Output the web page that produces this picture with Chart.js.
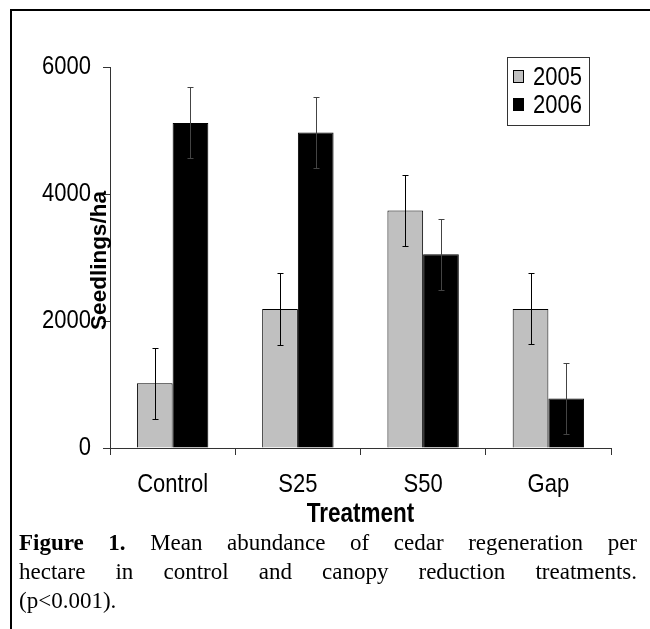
<!DOCTYPE html>
<html>
<head>
<meta charset="utf-8">
<script src="https://cdn.jsdelivr.net/npm/chart.js@4.4.1/dist/chart.umd.min.js"></script>
<style>
  html, body { margin: 0; padding: 0; background: #fff; }
  body { width: 650px; height: 629px; position: relative; overflow: hidden; }
  #frame { position: absolute; left: 10px; top: 9px; width: 700px; height: 700px;
           border-top: 2px solid #000; border-left: 2px solid #000; box-sizing: border-box; }
  #chart { position: absolute; left: 0; top: 0; }
  #caption { position: absolute; left: 19px; top: 528px; width: 618px;
             font-family: "Liberation Serif", "Times New Roman", serif; font-size: 23px;
             line-height: 29px; color: #000; }
  #caption .j { text-align: justify; text-align-last: justify; white-space: nowrap; }
</style>
</head>
<body>
<div id="frame"></div>
<canvas id="chart" width="650" height="629"></canvas>
<div id="caption">
  <div class="j"><b>Figure 1.</b> Mean abundance of cedar regeneration per</div>
  <div class="j">hectare in control and canopy reduction treatments.</div>
  <div>(p&lt;0.001).</div>
</div>
<script>
// Cedar seedlings per hectare by canopy treatment, two survey years
const treatments = ['Control', 'S25', 'S50', 'Gap'];
const seedlings2005 = [1020, 2190, 3740, 2190];
const seedlings2006 = [5120, 4970, 3050, 780];
const error2005 = [560, 565, 565, 560];
const error2006 = [560, 560, 560, 560];
const yTickValues = [0, 2000, 4000, 6000];
const yearLabels = ['2005', '2006'];

const SANS = '"Liberation Sans", Arial, sans-serif';
const TEXT_STRETCH = 1.2;   // chart lettering is set tall and narrow

// while the chart draws, horizontal text is stretched vertically about its anchor
const tallText = {
  id: 'tallText',
  beforeDraw(chart) {
    const ctx = chart.ctx;
    if (!ctx.plainFillText) ctx.plainFillText = ctx.fillText;
    ctx.fillText = function (text, x, y, maxWidth) {
      this.save();
      this.translate(x, y);
      this.scale(1, TEXT_STRETCH);
      if (maxWidth === undefined) this.plainFillText(text, 0, 0);
      else this.plainFillText(text, 0, 0, maxWidth);
      this.restore();
    };
  },
  afterDraw(chart) {
    const ctx = chart.ctx;
    if (ctx.plainFillText) ctx.fillText = ctx.plainFillText;
  }
};

// vertical error bars with short caps, drawn from the value scale
const errorBars = {
  id: 'errorBars',
  afterDatasetsDraw(chart) {
    const ctx = chart.ctx;
    const y = chart.scales.y;
    chart.data.datasets.forEach((ds, i) => {
      const meta = chart.getDatasetMeta(i);
      meta.data.forEach((bar, j) => {
        const v = ds.data[j], e = ds.errors[j];
        const top = Math.round(y.getPixelForValue(v + e)) + 0.5;
        const bot = Math.round(y.getPixelForValue(v - e)) + 0.5;
        const x = Math.round(bar.x) + 0.5;
        ctx.save();
        ctx.strokeStyle = ds.errorColor;
        ctx.lineWidth = 1;
        ctx.beginPath();
        ctx.moveTo(x, top); ctx.lineTo(x, bot);
        ctx.moveTo(x - 3, top); ctx.lineTo(x + 3, top);
        ctx.moveTo(x - 3, bot); ctx.lineTo(x + 3, bot);
        ctx.stroke();
        ctx.restore();
      });
    });
  }
};

// boxed legend in the upper right, plus the rotated value-axis title
const decorations = {
  id: 'decorations',
  afterDraw(chart) {
    const ctx = chart.ctx;
    const area = chart.chartArea;
    ctx.save();
    // legend box
    const bx = area.right - 104, by = area.top - 10, bw = 82, bh = 68;
    ctx.fillStyle = '#fff';
    ctx.fillRect(bx, by, bw, bh);
    ctx.strokeStyle = '#333';
    ctx.lineWidth = 1;
    ctx.strokeRect(bx + 0.5, by + 0.5, bw, bh);
    ctx.font = '22px ' + SANS;
    ctx.textBaseline = 'middle';
    ctx.textAlign = 'left';
    chart.data.datasets.forEach((ds, i) => {
      const cy = by + 20 + i * 28;
      ctx.fillStyle = ds.backgroundColor;
      ctx.fillRect(bx + 6.5, cy - 6.5, 10, 12);
      ctx.strokeStyle = '#000';
      ctx.strokeRect(bx + 6.5, cy - 6.5, 10, 12);
      ctx.fillStyle = '#000';
      ctx.fillText(ds.label, bx + 26, cy + 1);
    });
    // y title, overlapping the tick labels
    ctx.translate(area.left - 10, (area.top + area.bottom) / 2 + 3);
    ctx.rotate(-Math.PI / 2);
    ctx.textAlign = 'center';
    ctx.font = 'bold 22.5px ' + SANS;
    ctx.fillStyle = '#000';
    (ctx.plainFillText || ctx.fillText).call(ctx, 'Seedlings/ha', 0, 0);
    ctx.restore();
  }
};

new Chart(document.getElementById('chart'), {
  type: 'bar',
  data: {
    labels: treatments,
    datasets: [
      { label: yearLabels[0], data: seedlings2005, errors: error2005, errorColor: '#000',
        backgroundColor: '#c0c0c0', borderColor: '#000', borderWidth: 1 },
      { label: yearLabels[1], data: seedlings2006, errors: error2006, errorColor: '#444',
        backgroundColor: '#000', borderColor: '#000', borderWidth: 1 }
    ]
  },
  options: {
    responsive: false,
    animation: false,
    devicePixelRatio: 1,
    layout: { padding: { left: 0, top: 67, right: 39, bottom: 101 } },
    datasets: { bar: { categoryPercentage: 0.57, barPercentage: 1.0 } },
    plugins: { legend: { display: false }, tooltip: { enabled: false } },
    scales: {
      x: {
        offset: true,
        grid: { offset: true, drawOnChartArea: false, drawTicks: true, tickLength: 7, color: '#333' },
        border: { color: '#333', width: 1 },
        ticks: { color: '#000', padding: 19, font: { family: SANS, size: 22, lineHeight: 1 } },
        title: { display: true, text: 'Treatment', color: '#000', padding: { top: 0, bottom: 2 },
                 font: { family: SANS, size: 22.5, weight: 'bold', lineHeight: 1 } },
        afterFit(scale) { scale.height = 80; }
      },
      y: {
        min: 0, max: 6000,
        afterBuildTicks(scale) { scale.ticks = yTickValues.map(v => ({ value: v })); },
        grid: { drawOnChartArea: false, drawTicks: true, tickLength: 7, color: '#333' },
        border: { color: '#333', width: 1 },
        ticks: { color: '#000', padding: 12, font: { family: SANS, size: 22, lineHeight: 1 },
                 callback: v => String(v) },
        afterFit(scale) { scale.width = 110; }
      }
    }
  },
  plugins: [errorBars, decorations, tallText]
});
</script>
</body>
</html>
